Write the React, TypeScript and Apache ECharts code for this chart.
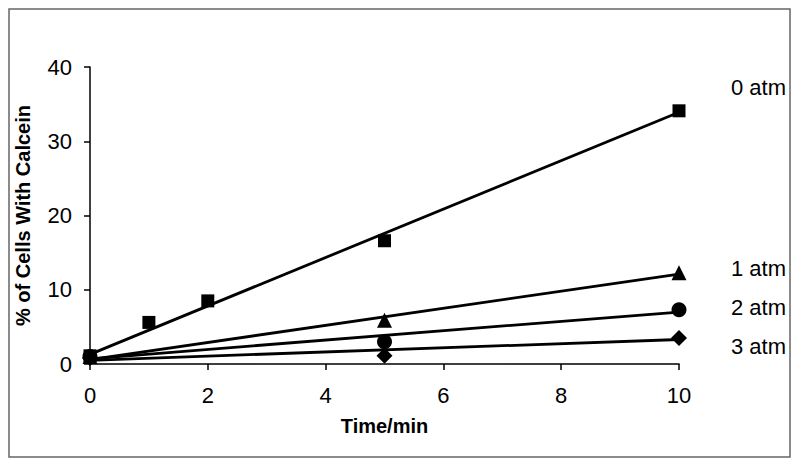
import React, { useEffect, useRef } from "react";
import * as echarts from "echarts";

// Measured points (time in min, % of cells with calcein)
const times0 = [0, 1, 2, 5, 10];
const atm0 = [1.1, 5.6, 8.5, 16.6, 34.1];
const times = [0, 5, 10];
const atm1 = [1.0, 5.9, 12.3];
const atm2 = [1.0, 3.0, 7.3];
const atm3 = [0.8, 1.1, 3.5];

// Trend-line end points (x = 0 and x = 10)
const trendX = [0, 10];
const trend0 = [1.3, 33.9];
const trend1 = [0.6, 12.1];
const trend2 = [0.7, 7.0];
const trend3 = [0.5, 3.3];

const seriesNames = ["0 atm", "1 atm", "2 atm", "3 atm"];
const xTicks = [0, 2, 4, 6, 8, 10];
const yTicks = [0, 10, 20, 30, 40];

const FONT = "Liberation Sans, Arial, sans-serif";

export default function App() {
  const ref = useRef<HTMLDivElement>(null);
  useEffect(() => {
    if (!ref.current) return;
    const chart = echarts.init(ref.current, null, { renderer: "svg" });
    const zip = (xs: number[], ys: number[]) => xs.map((x, i) => [x, ys[i]]);
    const lineSeries = (ys: number[]) => ({
      type: "line",
      data: zip(trendX, ys),
      showSymbol: false,
      symbol: "none",
      lineStyle: { color: "#000", width: 2.8 },
      z: 2,
      silent: true,
    });
    const scatter = (name: string, xs: number[], ys: number[], symbol: string, size: number) => ({
      type: "scatter",
      name,
      data: zip(xs, ys),
      symbol,
      symbolSize: size,
      itemStyle: { color: "#000", opacity: 1 },
      z: 3,
    });
    const labelYs = [87, 268, 307, 346];
    chart.setOption({
      animation: false,
      backgroundColor: "#fff",
      grid: { left: 90, right: 121, top: 67, bottom: 104 },
      xAxis: {
        type: "value",
        min: xTicks[0],
        max: xTicks[xTicks.length - 1],
        interval: 2,
        name: "Time/min",
        nameLocation: "middle",
        nameGap: 52,
        nameTextStyle: { fontFamily: FONT, fontWeight: "bold", fontSize: 20, color: "#000" },
        axisLine: { lineStyle: { color: "#000", width: 1.5 } },
        axisTick: { show: true, length: 6, inside: false, lineStyle: { color: "#000", width: 1.5 } },
        axisLabel: { fontFamily: FONT, fontSize: 22, color: "#000", margin: 20 },
        splitLine: { show: false },
      },
      yAxis: {
        type: "value",
        min: yTicks[0],
        max: yTicks[yTicks.length - 1],
        interval: 10,
        name: "% of Cells With Calcein",
        nameLocation: "middle",
        nameRotate: 90,
        nameGap: 57,
        nameTextStyle: { fontFamily: FONT, fontWeight: "bold", fontSize: 20, color: "#000" },
        axisLine: { show: true, lineStyle: { color: "#000", width: 1.5 } },
        axisTick: { show: true, length: 6, inside: false, lineStyle: { color: "#000", width: 1.5 } },
        axisLabel: { fontFamily: FONT, fontSize: 22, color: "#000", margin: 18 },
        splitLine: { show: false },
      },
      series: [
        lineSeries(trend0),
        lineSeries(trend1),
        lineSeries(trend2),
        lineSeries(trend3),
        scatter(seriesNames[0], times0, atm0, "rect", 13),
        scatter(seriesNames[1], times, atm1, "triangle", 15),
        scatter(seriesNames[2], times, atm2, "circle", 15),
        scatter(seriesNames[3], times, atm3, "diamond", 16),
      ],
      graphic: [
        {
          type: "rect",
          shape: { x: 9, y: 9, width: 781, height: 448 },
          style: { fill: "none", stroke: "#666", lineWidth: 1.5 },
          silent: true,
        },
        ...seriesNames.map((n, i) => ({
          type: "text",
          x: 731,
          y: labelYs[i],
          style: {
            text: n,
            fontFamily: FONT,
            fontSize: 22,
            fill: "#000",
            textVerticalAlign: "middle",
            textAlign: "left",
          },
          silent: true,
        })),
      ],
    });
    return () => chart.dispose();
  }, []);
  return (
    <div
      ref={ref}
      style={{ position: "fixed", left: 0, top: 0, width: 800, height: 468, background: "#fff" }}
    />
  );
}
